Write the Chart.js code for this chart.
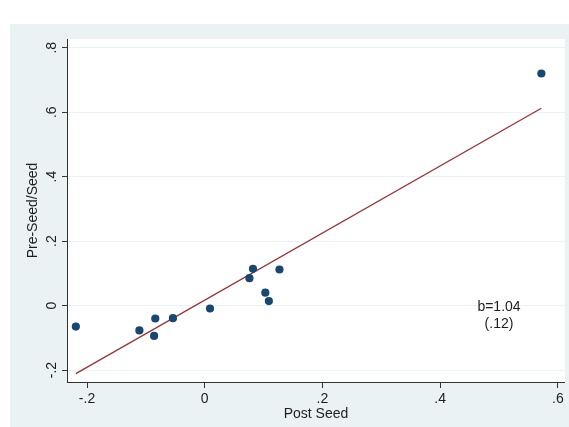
<!DOCTYPE html>
<html>
<head>
<meta charset="utf-8">
<script src="https://cdn.jsdelivr.net/npm/chart.js@4/dist/chart.umd.min.js"></script>
<style>
  body { margin: 0; background: #fff; }
  canvas { display: block; }
</style>
</head>
<body>
<canvas id="seedChart" width="569" height="427"></canvas>
<script>
// values
const postSeed = [-0.219, -0.111, -0.084, -0.086, -0.054, 0.009, 0.076, 0.082, 0.103, 0.109, 0.127, 0.572];
const preSeed  = [-0.065, -0.077, -0.040, -0.094, -0.039, -0.009, 0.085, 0.114, 0.040, 0.014, 0.112, 0.720];

// fitted line end points (b=1.04)
const fitX = [-0.219, 0.572];
const fitY = [-0.211, 0.612];

const xTicks = [-0.2, 0, 0.2, 0.4, 0.6];
const yTicks = [-0.2, 0, 0.2, 0.4, 0.6, 0.8];
const xRange = [-0.234, 0.612];
const yRange = [-0.237, 0.827];

const noteLines = ['b=1.04', '(.12)'];
const noteAt = { x: 0.5, y: -0.004 };

const bgColor = '#eaf2f3';
const font = 'Liberation Sans, Arial, sans-serif';

// stata-ish labels: drop the leading zero
function stataLabel(v) {
  if (v === 0) return '0';
  return String(v).replace('0.', '.');
}

const backdrop = {
  id: 'backdrop',
  beforeDraw(chart) {
    const ctx = chart.ctx;
    const a = chart.chartArea;
    ctx.save();
    ctx.fillStyle = '#fff';
    ctx.fillRect(0, 0, chart.width, chart.height);
    ctx.fillStyle = bgColor;
    ctx.fillRect(10, 24, chart.width - 10, chart.height - 24);
    ctx.fillStyle = '#fff';
    ctx.fillRect(a.left, a.top, a.right - a.left, a.bottom - a.top);
    ctx.restore();
  }
};

const note = {
  id: 'note',
  afterDatasetsDraw(chart) {
    const ctx = chart.ctx;
    const px = chart.scales.x.getPixelForValue(noteAt.x);
    const py = chart.scales.y.getPixelForValue(noteAt.y);
    ctx.save();
    ctx.fillStyle = '#1e1e1e';
    ctx.font = '14px ' + font;
    ctx.textAlign = 'center';
    ctx.textBaseline = 'middle';
    noteLines.forEach((t, i) => ctx.fillText(t, px, py + i * 17));
    ctx.restore();
  }
};

const ctx = document.getElementById('seedChart').getContext('2d');
const chart = new Chart(ctx, {
  type: 'scatter',
  data: {
    datasets: [
      {
        data: postSeed.map((x, i) => ({ x, y: preSeed[i] })),
        backgroundColor: '#1a476f',
        borderColor: '#1a476f',
        pointRadius: 4.1,
        borderWidth: 0
      },
      {
        type: 'line',
        data: fitX.map((x, i) => ({ x, y: fitY[i] })),
        borderColor: '#90353b',
        borderWidth: 1.3,
        pointRadius: 0,
        fill: false
      }
    ]
  },
  options: {
    responsive: false,
    animation: false,
    plugins: { legend: { display: false }, tooltip: { enabled: false } },
    layout: { padding: { left: 0, top: 39, right: 3, bottom: 0 } },
    scales: {
      x: {
        type: 'linear',
        min: xRange[0],
        max: xRange[1],
        afterBuildTicks: s => { s.ticks = xTicks.map(v => ({ value: v })); },
        afterFit: s => { s.height = 45; },
        ticks: {
          callback: v => stataLabel(v),
          color: '#1e1e1e',
          font: { family: font, size: 14 },
          padding: 3,
          maxRotation: 0
        },
        grid: { drawOnChartArea: false, drawTicks: true, tickLength: 6, tickColor: '#333' },
        border: { display: true, color: '#333', width: 1 },
        title: {
          display: true,
          text: 'Post Seed',
          color: '#1e1e1e',
          font: { family: font, size: 14 },
          padding: { top: 0, bottom: 4 }
        }
      },
      y: {
        type: 'linear',
        min: yRange[0],
        max: yRange[1],
        afterBuildTicks: s => { s.ticks = yTicks.map(v => ({ value: v })); },
        afterFit: s => { s.width = 67; },
        ticks: {
          callback: v => stataLabel(v),
          color: '#1e1e1e',
          font: { family: font, size: 14 },
          padding: 2,
          minRotation: 90,
          maxRotation: 90,
          crossAlign: 'center'
        },
        grid: { color: bgColor, lineWidth: 1, drawTicks: true, tickLength: 5, tickColor: '#333' },
        border: { display: true, color: '#333', width: 1 },
        title: {
          display: true,
          text: 'Pre-Seed/Seed',
          color: '#1e1e1e',
          font: { family: font, size: 14 },
          padding: { top: 25, bottom: 0 }
        }
      }
    }
  },
  plugins: [backdrop, note]
});
</script>
</body>
</html>
